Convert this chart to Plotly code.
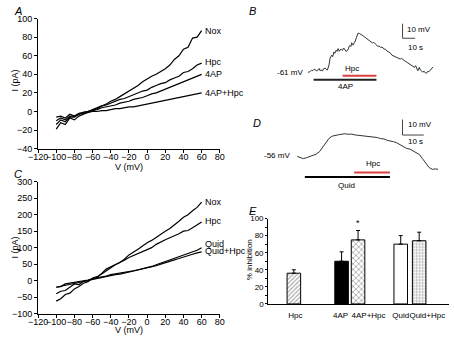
import plotly.graph_objects as go

# ---------------- DATA ----------------
V_MV = [-100, -95, -90, -85, -80, -75, -70, -65, -60, -55, -50, -45, -40, -35, -30, -25, -20,
        -15, -10, -5, 0, 5, 10, 15, 20, 25, 30, 35, 40, 45, 50, 55, 60]

# Panel A I-V curves (pA)
A_NOX = [-19, -12, -14, -7, -9, -5, -3, -1, 1, 3, 6, 8, 11, 13, 16, 19, 22,
         25, 28, 32, 35, 38, 40, 43, 46, 50, 56, 60, 67, 69, 79, 80, 87]
A_HPC = [-14, -9, -11, -6, -6, -3, -1, 0, 2, 4, 6, 7, 9, 11, 13, 14, 16,
         18, 20, 22, 23, 26, 28, 30, 31, 34, 36, 38, 42, 43, 46, 50, 52]
A_4AP = [-10, -7, -9, -5, -5, -2, -1, 0, 1, 2, 4, 5, 6, 7, 9, 10, 11,
         13, 14, 15, 17, 19, 20, 22, 24, 26, 28, 30, 32, 34, 36, 38, 40]
A_4APHPC = [-6, -5, -7, -3, -5, -3, -2, -1, 0, 0, 1, 1, 2, 3, 3, 4, 5,
            5, 6, 7, 8, 9, 10, 11, 12, 13, 14, 15, 16, 17, 18, 19, 20]
A_LABELS = ["Nox", "Hpc", "4AP", "4AP+Hpc"]
A_LABEL_Y = [87, 53, 40, 20]

# Panel C I-V curves (pA)
C_NOX = [-62, -55, -42, -38, -25, -18, -8, -3, 8, 12, 20, 30, 40, 48, 55, 65, 78,
         86, 95, 105, 115, 122, 132, 142, 150, 158, 168, 180, 192, 200, 212, 222, 238]
C_HPC = [-40, -32, -30, -20, -10, -12, -2, 0, 5, 10, 22, 35, 42, 48, 55, 62, 70,
         76, 82, 88, 94, 100, 110, 118, 124, 130, 135, 142, 150, 152, 160, 168, 178]
C_QUID = [-20, -18, -10, -8, -4, -2, 0, 2, 6, 8, 12, 14, 18, 20, 22, 25, 27,
          30, 33, 36, 39, 43, 48, 53, 59, 62, 67, 72, 78, 82, 88, 92, 100]
C_QUIDHPC = [-20, -17, -14, -10, -7, -4, -1, 2, 5, 8, 11, 13, 16, 18, 20, 23, 25,
             28, 31, 34, 37, 40, 45, 50, 55, 58, 63, 67, 72, 76, 80, 84, 87]
C_LABELS = ["Nox", "Hpc", "Quid", "Quid+Hpc"]
C_LABEL_Y = [239, 180, 110, 90]

# Panel B membrane potential trace (s, mV)
B_T = [0.0, 1.5, 3.0, 4.1, 5.0, 6.2, 7.0, 7.9, 9.0, 9.7, 10.5, 11.8, 12.5, 13.8, 14.5, 15.6,
       16.3, 16.9, 17.7, 18.5, 19.0, 19.8, 20.8, 21.5, 22.6, 23.3, 24.1, 25.1, 25.8, 26.7,
       27.5, 28.5, 29.7, 30.5, 31.0, 32.3, 33.0, 33.6, 34.3, 34.9, 35.6, 36.2, 37.0, 37.4,
       38.7, 40.0, 41.0, 42.1, 43.0, 43.8, 45.0, 46.4, 47.5, 49.0, 50.2, 51.5, 52.5, 54.1,
       55.5, 56.7, 58.0, 59.2, 60.5, 61.8, 63.0, 64.4, 65.5, 66.9, 68.0, 69.5, 70.8, 72.1,
       73.5, 74.6, 76.0, 77.2, 78.5, 79.7, 81.0, 82.3, 83.5, 84.9, 85.8, 86.7, 87.5, 88.7,
       89.5, 90.8, 91.5, 92.6, 93.5, 94.4, 95.3, 96.4, 97.5, 98.5, 99.5]
B_V = [-60.5, -60.3, -59.2, -59.4, -58.5, -58.8, -59.8, -58.6, -58.0, -59.5, -58.9, -59.6,
       -58.2, -57.7, -58.6, -59.0, -57.5, -55.5, -51.0, -49.5, -48.8, -49.8, -46.6, -47.5,
       -45.4, -46.2, -44.3, -46.1, -45.0, -44.8, -45.6, -43.9, -45.5, -46.3, -46.0, -44.5,
       -42.5, -42.1, -42.8, -40.3, -41.7, -41.7, -40.0, -39.9, -36.6, -33.7, -33.9, -34.3,
       -35.0, -35.4, -36.2, -37.2, -37.8, -38.8, -39.5, -40.5, -40.0, -41.7, -42.6, -42.6,
       -43.5, -43.2, -44.5, -44.8, -46.0, -46.6, -47.2, -48.8, -49.2, -49.9, -50.2, -50.6,
       -51.5, -51.0, -52.3, -52.8, -53.5, -54.3, -55.0, -55.9, -56.5, -57.2, -56.0, -58.8,
       -59.5, -57.2, -59.0, -59.9, -60.4, -59.9, -61.0, -61.2, -60.0, -60.2, -59.2, -57.8,
       -57.0]
B_REST = -61
B_4AP_ON = [4.6, 54.6]
B_HPC_ON = [27.7, 54.6]

# Panel D membrane potential trace (s, mV)
D_T = [0.0, 1.4, 2.9, 4.4, 5.9, 7.4, 8.9, 10.5, 12.0, 13.5, 15.0, 16.5, 18.0, 19.5, 21.1,
       22.6, 24.1, 25.6, 27.1, 28.6, 30.1, 31.7, 33.2, 34.7, 36.2, 37.7, 39.2, 40.8, 42.3,
       43.8, 45.3, 46.8, 48.3, 49.8, 51.4, 52.9, 54.4, 55.9, 57.4, 58.9, 60.5, 62.0, 63.5,
       65.0, 66.2]
D_V = [-55.4, -56.2, -56.8, -56.2, -55.6, -54.5, -53.9, -52.3, -49.5, -46.4, -43.7, -42.3,
       -41.6, -41.4, -41.0, -40.8, -41.1, -41.0, -41.5, -41.7, -41.9, -42.3, -42.3, -42.7,
       -43.0, -43.2, -43.9, -44.1, -45.0, -45.3, -45.9, -46.6, -47.9, -48.8, -50.2, -50.6,
       -51.8, -52.5, -54.1, -56.8, -60.0, -62.5, -63.7, -63.4, -63.7]
D_REST = -56
D_QUID_ON = [3.6, 43.6]
D_HPC_ON = [26.8, 43.6]

# Panel E % inhibition
E_CATS = ["Hpc", "4AP", "4AP+Hpc", "Quid", "Quid+Hpc"]
E_MEAN = [36, 50, 75, 70, 74]
E_SEM = [4, 11, 11, 10, 10]

# ---------------- LAYOUT HELPERS ----------------
W, H = 454, 340
FONT = "Arial, Liberation Sans, sans-serif"


def dx(a, b):
    return [a / W, b / W]


def dy(top, bottom):
    return [1 - bottom / H, 1 - top / H]


fig = go.Figure()
line_style = dict(color="black", width=1.2)

for ys in (A_NOX, A_HPC, A_4AP, A_4APHPC):
    fig.add_trace(go.Scatter(x=V_MV, y=ys, mode="lines", line=line_style,
                             xaxis="x", yaxis="y", showlegend=False))
for ys in (C_NOX, C_HPC, C_QUID, C_QUIDHPC):
    fig.add_trace(go.Scatter(x=V_MV, y=ys, mode="lines", line=line_style,
                             xaxis="x2", yaxis="y2", showlegend=False))

trace_col = "#2b3533"
fig.add_trace(go.Scatter(x=B_T, y=B_V, mode="lines", line=dict(color=trace_col, width=1),
                         xaxis="x3", yaxis="y3", showlegend=False))
fig.add_trace(go.Scatter(x=D_T, y=D_V, mode="lines", line=dict(color=trace_col, width=1),
                         xaxis="x4", yaxis="y4", showlegend=False))

# Bar chart E
bar_x = [1.42, 4.06, 4.97, 7.33, 8.35]
label_x = [1.5, 4.0, 5.55, 7.33, 8.8]
fig.add_trace(go.Bar(
    x=bar_x, y=E_MEAN, width=0.75, xaxis="x5", yaxis="y5", showlegend=False,
    marker=dict(color=["white", "black", "white", "white", "white"],
                line=dict(color="black", width=1),
                pattern=dict(shape=["/", "", "x", "", "."],
                             fgcolor=["#444", "black", "black", "black", "#777"],
                             bgcolor=["white", "black", "white", "white", "white"],
                             size=[3, 3, 4, 3, 3], solidity=0.35)),
    error_y=dict(type="data", symmetric=False, array=E_SEM, arrayminus=[0] * 5,
                 color="black", thickness=1, width=2),
))

ax_common = dict(showline=True, linecolor="black", linewidth=1, ticks="outside",
                 ticklen=3, tickcolor="black", showgrid=False, zeroline=False, tickangle=0,
                 tickfont=dict(family=FONT, size=9, color="black"))

noax = dict(visible=False, showgrid=False, zeroline=False)

fig.update_layout(
    width=W, height=H, margin=dict(l=0, r=0, t=0, b=0),
    paper_bgcolor="white", plot_bgcolor="rgba(0,0,0,0)",
    font=dict(family=FONT, size=9, color="black"),
    xaxis=dict(domain=dx(29, 217), range=[-120, 80], tickvals=list(range(-120, 81, 20)),
               anchor="y", ticklabelstandoff=-3, **ax_common),
    yaxis=dict(domain=dy(14, 148), range=[-40, 100], tickvals=list(range(-40, 101, 20)),
               anchor="x", **ax_common),
    xaxis2=dict(domain=dx(29, 217), range=[-120, 80], tickvals=list(range(-120, 81, 20)),
                anchor="y2", ticklabelstandoff=-3, **ax_common),
    yaxis2=dict(domain=dy(182, 318), range=[-100, 300], tickvals=list(range(-100, 301, 50)),
                anchor="x2", **ax_common),
    xaxis3=dict(domain=dx(300, 452), range=[-6.15, 110.8], anchor="y3", **noax),
    yaxis3=dict(domain=dy(10, 95), range=[-77.7, -21], anchor="x3", **noax),
    xaxis4=dict(domain=dx(290, 452), range=[-3.18, 70.45], anchor="y4", **noax),
    yaxis4=dict(domain=dy(110, 195), range=[-79.75, -26.6], anchor="x4", **noax),
    xaxis5=dict(domain=dx(267, 454), range=[0, 10], anchor="y5", showline=True,
                linecolor="black", linewidth=1, ticks="", showgrid=False, zeroline=False,
                tickvals=label_x, ticktext=E_CATS, tickangle=0, ticklabelstandoff=3,
                tickfont=dict(family=FONT, size=8, color="black")),
    yaxis5=dict(domain=dy(220, 308), range=[0, 100], tickvals=list(range(0, 101, 20)),
                anchor="x5", minor=dict(ticks="outside", ticklen=2, dtick=10, tickcolor="black"),
                **{**ax_common, "ticklen": 2, "tickfont": dict(family=FONT, size=8, color="black")}),
)

ann = []


def txt(x, y, s, xref="paper", yref="paper", xanchor="center", yanchor="middle",
        size=9, angle=0, color="black"):
    ann.append(dict(x=x, y=y, xref=xref, yref=yref, text=s, showarrow=False,
                    xanchor=xanchor, yanchor=yanchor, textangle=angle,
                    font=dict(family=FONT, size=size, color=color)))


# panel letters
txt(2 / W, 1 - 6 / H, "<i>A</i>", xanchor="left", size=11)
txt(2 / W, 1 - 174 / H, "<i>C</i>", xanchor="left", size=11)
txt(245 / W, 1 - 6 / H, "<i>B</i>", xanchor="left", size=11)
txt(249 / W, 1 - 122 / H, "<i>D</i>", xanchor="left", size=11)
txt(245 / W, 1 - 212 / H, "<i>E</i>", xanchor="left", size=11)

# axis titles
txt(123 / W, 1 - 167 / H, "V (mV)")
txt(123 / W, 1 - 335 / H, "V (mV)")
txt(5 / W, 1 - 78 / H, "I (pA)", angle=-90)
txt(5 / W, 1 - 250 / H, "I (pA)", angle=-90)
txt(247 / W, 1 - 262 / H, "% inhibition", angle=-90, size=8)

for lab, yv in zip(A_LABELS, A_LABEL_Y):
    txt(62, yv, lab, xref="x", yref="y", xanchor="left")
for lab, yv in zip(C_LABELS, C_LABEL_Y):
    txt(62, yv, lab, xref="x2", yref="y2", xanchor="left")

# panel B annotations
txt(-2.3, B_REST, f"{B_REST} mV", xref="x3", yref="y3", xanchor="right", size=8)
txt(35.4, -58.3, "Hpc", xref="x3", yref="y3", size=8)
txt(30, -70.5, "4AP", xref="x3", yref="y3", size=8)
txt(77, -31, "10 mV", xref="x3", yref="y3", xanchor="left", size=8)
txt(78.5, -43.2, "10 s", xref="x3", yref="y3", xanchor="left", size=8)

# panel D annotations
txt(-2.3, -55, f"{D_REST} mV", xref="x4", yref="y4", xanchor="right", size=8)
txt(35.5, -59.8, "Hpc", xref="x4", yref="y4", size=8)
txt(23.2, -74.1, "Quid", xref="x4", yref="y4", size=8)
txt(51, -34.6, "10 mV", xref="x4", yref="y4", xanchor="left", size=8)
txt(51, -45.8, "10 s", xref="x4", yref="y4", xanchor="left", size=8)

# asterisk E
txt(bar_x[2], E_MEAN[2] + E_SEM[2] + 1, "*", xref="x5", yref="y5", yanchor="bottom", size=9)

fig.update_layout(annotations=ann)

RED = "#d9403f"
shapes = [
    dict(type="line", xref="x3", yref="y3", x0=B_4AP_ON[0], x1=B_4AP_ON[1], y0=-65.7, y1=-65.7,
         line=dict(color="#222", width=2)),
    dict(type="line", xref="x3", yref="y3", x0=B_HPC_ON[0], x1=B_HPC_ON[1], y0=-63, y1=-63,
         line=dict(color=RED, width=2)),
    dict(type="line", xref="x3", yref="y3", x0=75.4, x1=75.4, y0=-37.2, y1=-27.2,
         line=dict(color="#444", width=1)),
    dict(type="line", xref="x3", yref="y3", x0=75.4, x1=85.4, y0=-37.2, y1=-37.2,
         line=dict(color="#444", width=1)),
    dict(type="line", xref="x4", yref="y4", x0=D_QUID_ON[0], x1=D_QUID_ON[1], y0=-68.7, y1=-68.7,
         line=dict(color="black", width=2)),
    dict(type="line", xref="x4", yref="y4", x0=D_HPC_ON[0], x1=D_HPC_ON[1], y0=-65.8, y1=-65.8,
         line=dict(color=RED, width=2)),
    dict(type="line", xref="x4", yref="y4", x0=49.5, x1=49.5, y0=-41.6, y1=-31.6,
         line=dict(color="#444", width=1)),
    dict(type="line", xref="x4", yref="y4", x0=49.5, x1=59.5, y0=-41.6, y1=-41.6,
         line=dict(color="#444", width=1)),
]
fig.update_layout(shapes=shapes)

fig.write_html("out.html", config={"displayModeBar": False},
               post_script="document.body.style.margin='0';document.body.style.overflow='hidden';")
